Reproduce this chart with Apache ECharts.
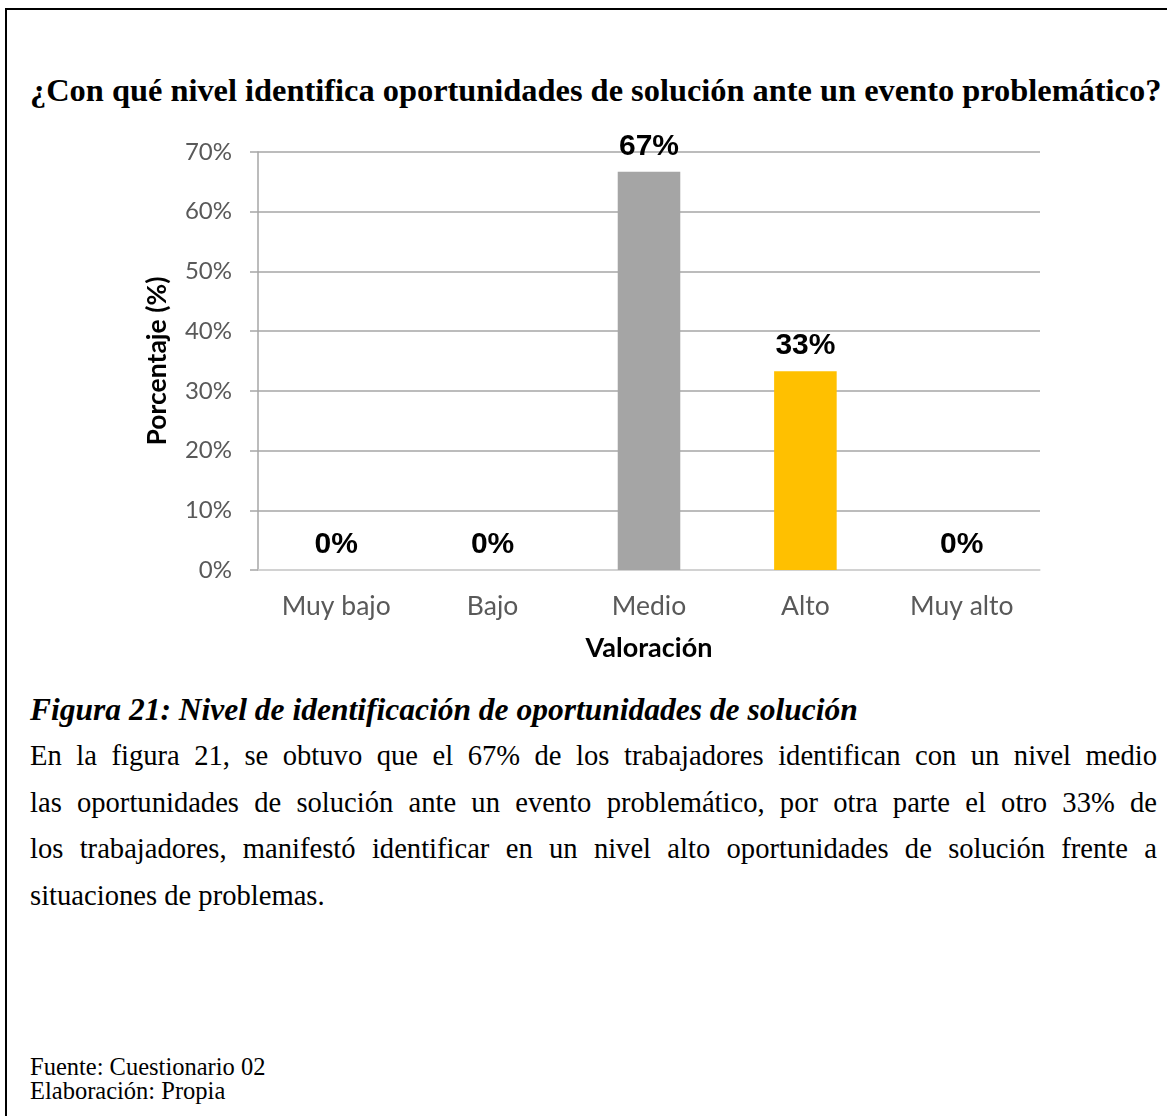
<!DOCTYPE html>
<html>
<head>
<meta charset="utf-8">
<script src="https://cdn.jsdelivr.net/npm/echarts@6/dist/echarts.min.js"></script>
<style>
  html, body { margin: 0; padding: 0; background: #fff; }
  #page { position: relative; width: 1167px; height: 1116px; overflow: hidden; }
  #frame { position: absolute; left: 5px; top: 8px; right: 0; bottom: -10px;
           border-top: 2px solid #000; border-left: 2px solid #000; }
  #chart { position: absolute; left: 0; top: 0; width: 1167px; height: 680px; }
  .serif { font-family: "Liberation Serif", "Times New Roman", serif; color: #000; position: absolute; white-space: nowrap; }
  #title { left: 30px; top: 72px; font-size: 32.4px; font-weight: bold; line-height: 36px; }
  #caption { left: 30px; top: 692px; font-size: 31.5px; font-weight: bold; font-style: italic; line-height: 36px; }
  #para { position: absolute; left: 30px; top: 733px; width: 1127px; font-family: "Liberation Serif", "Times New Roman", serif; font-size: 28.6px; }
  #para div { line-height: 46.5px; text-align: justify; text-align-last: justify; white-space: nowrap; }
  #para div.last { text-align-last: left; }
  #source { left: 30px; top: 1055px; font-size: 24.5px; line-height: 23.5px; }
</style>
</head>
<body>
<div id="page">
  <div id="frame"></div>
  <div id="title" class="serif">¿Con qué nivel identifica oportunidades de solución ante un evento problemático?</div>
  <div id="chart"></div>
  <div id="caption" class="serif">Figura 21: Nivel de identificación de oportunidades de solución</div>
  <div id="para">
    <div>En la figura 21, se obtuvo que el 67% de los trabajadores identifican con un nivel medio</div>
    <div>las oportunidades de solución ante un evento problemático, por otra parte el otro 33% de</div>
    <div>los trabajadores, manifestó identificar en un nivel alto oportunidades de solución frente a</div>
    <div class="last">situaciones de problemas.</div>
  </div>
  <div id="source" class="serif">Fuente: Cuestionario 02<br>Elaboración: Propia</div>
</div>
<script>
// Survey answers: share of workers per rating level
const categories = ['Muy bajo', 'Bajo', 'Medio', 'Alto', 'Muy alto'];
const shares = [0, 0, 0.667, 0.333, 0];
const barColors = ['#a5a5a5', '#a5a5a5', '#a5a5a5', '#ffc000', '#a5a5a5'];
const yTicks = [0, 0.1, 0.2, 0.3, 0.4, 0.5, 0.6, 0.7];

const axisFont = 'Lato, "Open Sans", sans-serif';

const chart = echarts.init(document.getElementById('chart'), null, { renderer: 'canvas' });
chart.setOption({
  animation: false,
  grid: { left: 258, top: 152, width: 782, height: 418 },
  xAxis: {
    type: 'category',
    data: categories,
    name: 'Valoración',
    nameLocation: 'middle',
    nameGap: 65,
    nameTextStyle: { fontFamily: axisFont, fontWeight: 'bold', fontSize: 27, color: '#000' },
    axisLine: { lineStyle: { color: '#d9d9d9', width: 1.5 } },
    axisTick: { show: false },
    axisLabel: { fontFamily: axisFont, fontSize: 26.5, color: '#595959', margin: 23 }
  },
  yAxis: {
    type: 'value',
    min: yTicks[0],
    max: yTicks[yTicks.length - 1],
    interval: 0.1,
    name: 'Porcentaje (%)',
    nameLocation: 'middle',
    nameGap: 87,
    nameTextStyle: { fontFamily: axisFont, fontWeight: 'bold', fontSize: 26.5, color: '#000' },
    axisLine: { show: true, lineStyle: { color: '#a6a6a6', width: 1.5 } },
    axisTick: { show: true, length: 8, lineStyle: { color: '#a6a6a6', width: 1.5 } },
    splitLine: { lineStyle: { color: '#a6a6a6', width: 1.5 } },
    axisLabel: {
      fontFamily: axisFont, fontSize: 24, color: '#595959', margin: 26,
      formatter: v => Math.round(v * 100) + '%'
    }
  },
  series: [{
    type: 'bar',
    barWidth: '40%',
    data: shares.map((v, i) => ({ value: v, itemStyle: { color: barColors[i] } })),
    label: {
      show: true,
      position: 'top',
      distance: 10,
      fontFamily: '"Liberation Sans", Arial, sans-serif',
      fontWeight: 'bold',
      fontSize: 30,
      color: '#000',
      formatter: p => Math.round(p.value * 100) + '%'
    }
  }]
});
</script>
</body>
</html>
